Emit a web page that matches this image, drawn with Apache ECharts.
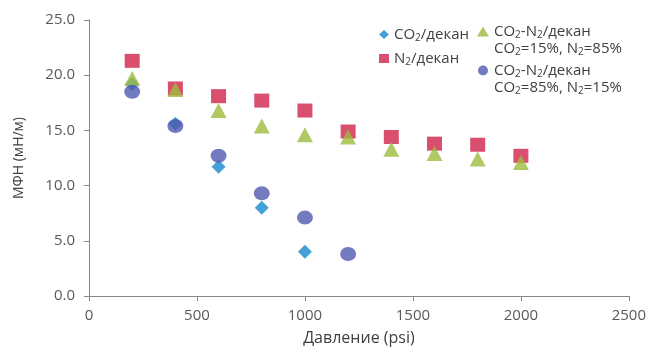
<!DOCTYPE html>
<html>
<head>
<meta charset="utf-8">
<script src="https://cdn.jsdelivr.net/npm/echarts@6/dist/echarts.min.js"></script>
<style>
  html, body { margin: 0; padding: 0; background: #fff; }
  #chart { width: 649px; height: 357px; }
</style>
</head>
<body>
<div id="chart"></div>
<script>
// Pressure points (psi)
const pressure = [200, 400, 600, 800, 1000, 1200, 1400, 1600, 1800, 2000];

// Interfacial tension, mN/m
const co2Decane = [19.2, 15.6, 11.7, 8.0, 4.0];
const n2Decane = [21.3, 18.8, 18.1, 17.7, 16.8, 14.9, 14.4, 13.8, 13.7, 12.7];
const mix15Decane = [19.7, 18.7, 16.8, 15.4, 14.6, 14.4, 13.3, 12.9, 12.4, 12.1];
const mix85Decane = [18.5, 15.4, 12.7, 9.3, 7.1, 3.8];

const seriesNames = [
  'CO2/декан',
  'N2/декан',
  'CO2-N2/декан\nCO2=15%, N2=85%',
  'CO2-N2/декан\nCO2=85%, N2=15%'
];

const xTicks = { min: 0, max: 2500, step: 500 };
const yTicks = { min: 0, max: 25, step: 5 };

const FONT = '"Open Sans", sans-serif';
const TEXT = '#595959';
const AXIS = '#868686';

function pairs(values) {
  return values.map((v, i) => [pressure[i], v]);
}

// Turn "CO2" / "N2" into rich text with a lowered, smaller 2
function richName(name) {
  return name.split('\n').map(line =>
    '{t|' + line.replace(/(CO|N)2/g, '$1}{s|2}{t|') + '}'
  ).join('\n');
}

const rich = {
  t: { fontFamily: FONT, fontSize: 15, color: '#404040', lineHeight: 17 },
  s: { fontFamily: FONT, fontSize: 10, color: '#404040', lineHeight: 17, verticalAlign: 'bottom' }
};

const chart = echarts.init(document.getElementById('chart'), null, { renderer: 'canvas' });

chart.setOption({
  animation: false,
  backgroundColor: '#ffffff',
  grid: { left: 89, right: 19, top: 20, bottom: 61, containLabel: false },
  legend: [
    {
      orient: 'vertical',
      left: 374,
      top: 22,
      itemWidth: 10,
      itemHeight: 9,
      itemGap: 8,
      data: [seriesNames[0], seriesNames[1]],
      formatter: richName,
      textStyle: { rich: rich }
    },
    {
      orient: 'vertical',
      left: 472,
      top: 19,
      itemWidth: 12,
      itemHeight: 10,
      itemGap: 6,
      data: [seriesNames[2], seriesNames[3]],
      formatter: richName,
      textStyle: { rich: rich, padding: [17, 0, 0, 0] }
    }
  ],
  xAxis: {
    type: 'value',
    min: xTicks.min,
    max: xTicks.max,
    interval: xTicks.step,
    name: 'Давление (psi)',
    nameLocation: 'middle',
    nameGap: 34,
    nameTextStyle: { fontFamily: FONT, fontSize: 16, color: '#404040' },
    axisLine: { lineStyle: { color: AXIS, width: 1 } },
    axisTick: { show: true, inside: false, length: 5, lineStyle: { color: AXIS } },
    axisLabel: {
      fontFamily: FONT, fontSize: 15, color: TEXT, margin: 12,
      formatter: v => String(v)
    },
    splitLine: { show: false }
  },
  yAxis: {
    type: 'value',
    min: yTicks.min,
    max: yTicks.max,
    interval: yTicks.step,
    name: 'МФН (мН/м)',
    nameLocation: 'middle',
    nameGap: 63,
    nameTextStyle: { fontFamily: FONT, fontSize: 14, color: '#404040' },
    axisLine: { show: true, lineStyle: { color: AXIS, width: 1 } },
    axisTick: { show: true, inside: false, length: 5, lineStyle: { color: AXIS } },
    axisLabel: {
      fontFamily: FONT, fontSize: 15, color: TEXT, margin: 14,
      formatter: v => v.toFixed(1)
    },
    splitLine: { show: false }
  },
  series: [
    {
      name: seriesNames[0],
      type: 'scatter',
      symbol: 'diamond',
      symbolSize: [14, 14],
      itemStyle: { color: '#1589cc' },
      data: pairs(co2Decane)
    },
    {
      name: seriesNames[1],
      type: 'scatter',
      symbol: 'rect',
      symbolSize: [15, 14],
      itemStyle: { color: '#cf2348' },
      data: pairs(n2Decane)
    },
    {
      name: seriesNames[2],
      type: 'scatter',
      symbol: 'triangle',
      symbolSize: [16, 15],
      itemStyle: { color: '#9dbb3c' },
      data: pairs(mix15Decane)
    },
    {
      name: seriesNames[3],
      type: 'scatter',
      symbol: 'circle',
      symbolSize: [16, 14],
      itemStyle: { color: '#5059b0' },
      data: pairs(mix85Decane)
    }
  ]
});
</script>
</body>
</html>
